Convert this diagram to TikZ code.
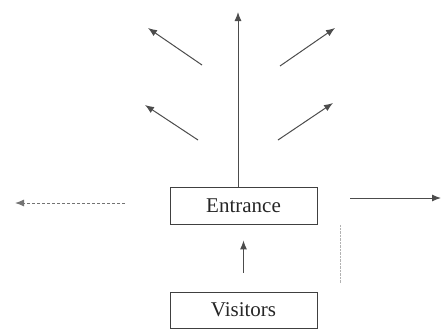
\documentclass[tikz,border=0pt]{standalone}
\usepackage{fontspec}
\setmainfont{Liberation Serif}
\usetikzlibrary{arrows.meta}

\tikzset{
	boite/.style={draw=black!75,line width=0.9pt,minimum width=147pt,inner sep=0pt,font=\fontsize{21}{25}\selectfont,text=black!85},
	fleche/.style={draw=black!70,line width=1pt,-{Latex[length=9pt,width=7pt]}}
}

\begin{document}
\begin{tikzpicture}[x=1pt,y=-1pt]
	\useasboundingbox (0,0) rectangle (442,330);
	\node[boite,minimum height=37pt] (entrance) at (243.5,205.5) {Entrance};
	\node[boite,minimum height=36pt] (visitors) at (243.5,310) {Visitors};
	
	% les extremites libres des fleches
	\coordinate (haut) at (238,12);
	\coordinate (hg1) at (202,65);  \coordinate (hg2) at (148,28);
	\coordinate (bg1) at (198,140); \coordinate (bg2) at (145,105);
	\coordinate (hd1) at (280,66);  \coordinate (hd2) at (335,28);
	\coordinate (bd1) at (278,140); \coordinate (bd2) at (333,103);
	\coordinate (g1) at (125,203);  \coordinate (g2) at (15,203);
	\coordinate (d1) at (350,198);  \coordinate (d2) at (441,198);
	
	\draw[fleche] (entrance.north -| haut)--(haut); % la fleche verticale
	\draw[fleche] (hg1)--(hg2);
	\draw[fleche] (bg1)--(bg2);
	\draw[fleche] (hd1)--(hd2);
	\draw[fleche] (bd1)--(bd2);
	\draw[fleche,densely dashed,draw=black!55] (g1)--(g2);
	\draw[fleche] (d1)--(d2);
	\draw[fleche,shorten <=19pt,shorten >=16pt] (visitors)--(entrance);
	
	\draw[color=gray!60,densely dotted] (340,225)--(340,283);
\end{tikzpicture}
\end{document}
